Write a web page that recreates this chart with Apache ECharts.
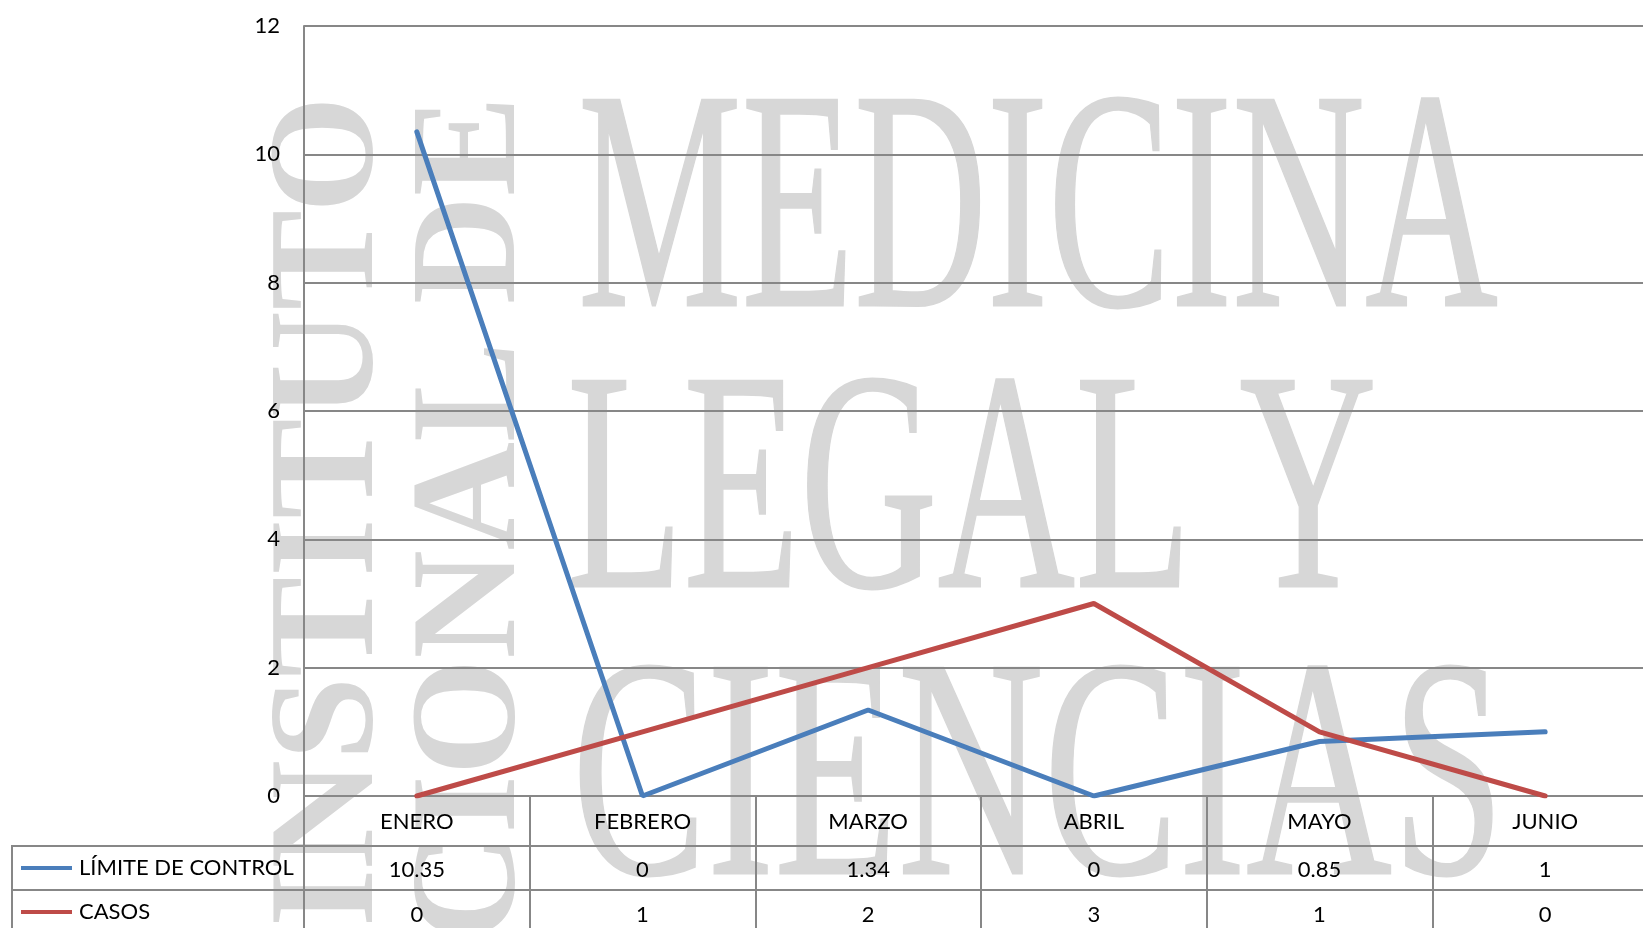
<!DOCTYPE html>
<html><head><meta charset="utf-8">
<script src="https://cdn.jsdelivr.net/npm/echarts@6/dist/echarts.min.js"></script>
<style>html,body{margin:0;padding:0;background:#fff;overflow:hidden}#c{width:1700px;height:928px}</style>
</head><body><div id="c"></div>
<script>
const categories = ['ENERO', 'FEBRERO', 'MARZO', 'ABRIL', 'MAYO', 'JUNIO'];
const limiteControl = [10.35, 0, 1.34, 0, 0.85, 1];
const casos = [0, 1, 2, 3, 1, 0];
const seriesNames = ['LÍMITE DE CONTROL', 'CASOS'];
const yMin = 0, yMax = 12, yInterval = 2;

const GRID = '#878787';
const WM = '#d7d7d7';
const TXT = '#000';
const FONT = 'Lato';
const FS = 22;
const SERIF = '"Liberation Serif", "DejaVu Serif", serif';

const chart = echarts.init(document.getElementById('c'), null, {renderer: 'canvas'});

function wmText(text, x, y, size, sx) {
  return {
    type: 'text', x: x, y: y, z: -100, silent: true, scaleX: sx,
    style: {text: text, font: size + 'px ' + SERIF, fill: WM, stroke: WM, lineWidth: 2,
      textAlign: 'left', textVerticalAlign: 'middle'}
  };
}
function wmVert(text, x, y, size) {
  return {
    type: 'text', x: x, y: y, z: -100, silent: true, rotation: Math.PI / 2,
    style: {text: text, font: 'bold ' + size + 'px ' + SERIF, fill: WM, textAlign: 'right', textVerticalAlign: 'middle'}
  };
}

const option = {
  backgroundColor: '#fff',
  animation: false,
  grid: {left: 304, top: 26, width: 1354, height: 770, containLabel: false},
  legend: {
    orient: 'vertical', left: 21, top: 857, padding: 0,
    icon: 'rect', itemWidth: 51, itemHeight: 4, itemGap: 22,
    selectedMode: false,
    textStyle: {fontFamily: FONT, fontSize: FS, color: TXT, lineHeight: 22, padding: [0, 0, 0, 2]},
    data: seriesNames
  },
  xAxis: [
    {
      type: 'category', data: categories, position: 'bottom', boundaryGap: true,
      axisLine: {show: true, lineStyle: {color: GRID, width: 2}},
      axisTick: {show: true, interval: 0, length: 140, lineStyle: {color: GRID, width: 2}},
      axisLabel: {interval: 0, margin: 15, fontFamily: FONT, fontSize: FS, color: TXT},
      splitLine: {show: false}
    },
    {
      type: 'category', data: categories, position: 'bottom', offset: 50, boundaryGap: true,
      axisLine: {show: true, lineStyle: {color: GRID, width: 2}},
      axisTick: {show: false},
      axisLabel: {interval: 0, margin: 13, fontFamily: FONT, fontSize: FS, color: TXT,
        formatter: (v, i) => String(limiteControl[i])}
    },
    {
      type: 'category', data: categories, position: 'bottom', offset: 94, boundaryGap: true,
      axisLine: {show: true, lineStyle: {color: GRID, width: 2}},
      axisTick: {show: false},
      axisLabel: {interval: 0, margin: 14, fontFamily: FONT, fontSize: FS, color: TXT,
        formatter: (v, i) => String(casos[i])}
    }
  ],
  yAxis: {
    type: 'value', min: yMin, max: yMax, interval: yInterval,
    axisLine: {show: true, lineStyle: {color: GRID, width: 2}},
    axisTick: {show: false},
    axisLabel: {margin: 24, fontFamily: FONT, fontSize: FS, color: TXT},
    splitLine: {show: true, lineStyle: {color: GRID, width: 2}}
  },
  series: [
    {name: seriesNames[0], type: 'line', data: limiteControl, xAxisIndex: 0, symbol: 'none',
      lineStyle: {color: '#4a7ebb', width: 5, cap: 'round'}, itemStyle: {color: '#4a7ebb'}, z: 3},
    {name: seriesNames[1], type: 'line', data: casos, xAxisIndex: 0, symbol: 'none',
      lineStyle: {color: '#be4b48', width: 5, cap: 'round'}, itemStyle: {color: '#be4b48'}, z: 4}
  ],
  graphic: {
    elements: [
      wmText('MEDICINA', 578, 223, 314, 0.586),
      wmText('LEGAL Y', 567, 504, 314, 0.607),
      wmText('CIENCIAS', 572, 791, 314, 0.644),
      wmVert('INSTITUTO', 333, 96, 150),
      wmVert('NACIONAL DE', 475, 96, 150),
      {type: 'line', z: 10, silent: true, shape: {x1: 12, y1: 846, x2: 304, y2: 846}, style: {stroke: GRID, lineWidth: 2}},
      {type: 'line', z: 10, silent: true, shape: {x1: 12, y1: 890, x2: 304, y2: 890}, style: {stroke: GRID, lineWidth: 2}},
      {type: 'line', z: 10, silent: true, shape: {x1: 12, y1: 845, x2: 12, y2: 940}, style: {stroke: GRID, lineWidth: 2}}
    ]
  }
};
chart.setOption(option);
</script>
</body></html>
